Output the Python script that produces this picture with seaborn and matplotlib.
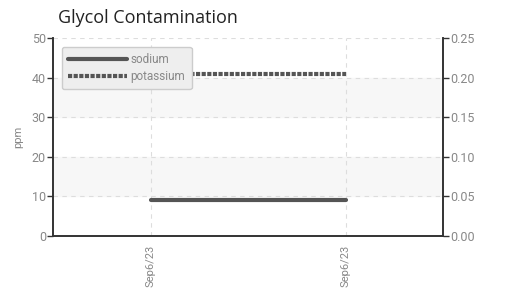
import pandas as pd
import seaborn as sns
import matplotlib.pyplot as plt

# data
dates = ["Sep6/23", "Sep6/23"]
sodium = [9, 9]              # ppm, left axis
potassium = [0.205, 0.205]   # right axis

df = pd.DataFrame({"pos": [0, 1], "sodium": sodium, "potassium": potassium})

sns.set_theme(style="white")
plt.rcParams['font.family'] = ['Roboto', 'DejaVu Sans']

fig = plt.figure(figsize=(5.08, 2.90), dpi=100)
ax = fig.add_axes([53/508, 1 - 236/290, 390/508, 198/290])
ax2 = ax.twinx()

# alternating bands
for lo, hi in [(10, 20), (30, 40)]:
    ax.axhspan(lo, hi, color="#f7f7f7", zorder=0)

sns.lineplot(data=df, x="pos", y="sodium", ax=ax, color="#555555", lw=3,
             label="sodium", legend=False)
sns.lineplot(data=df, x="pos", y="potassium", ax=ax2, color="#555555", lw=3,
             label="potassium", legend=False)
ax2.lines[0].set_dashes((1.0, 0.35))

ax.set_xlim(-0.5, 1.5)
ax.set_ylim(0, 50)
ax2.set_ylim(0, 0.25)
ax.set_yticks(range(0, 51, 10))
ax2.set_yticks([0, 0.05, 0.10, 0.15, 0.20, 0.25])
ax2.set_yticklabels(["0.00", "0.05", "0.10", "0.15", "0.20", "0.25"])
ax.set_xticks(df["pos"])
ax.set_xticklabels(dates, rotation=90)

ax.grid(True, axis="both", linestyle=(0, (4, 4)), color="#dddddd", lw=0.8)
ax.set_axisbelow(True)

for a in (ax, ax2):
    a.spines["top"].set_visible(False)
    for s in ("left", "right", "bottom"):
        a.spines[s].set_color("#333333")
        a.spines[s].set_linewidth(1.2)
    a.tick_params(colors="#333333", labelcolor="#888888", labelsize=9,
                  length=4, width=1, direction="out")
ax.tick_params(axis="y", length=4, pad=1)
ax2.tick_params(axis="y", length=4, pad=1)
ax.tick_params(axis="x", length=4, pad=2, labelsize=8)

ax.set_xlabel("")
ax.set_ylabel("ppm", color="#888888", fontsize=8, labelpad=6)
ax2.set_ylabel("")

fig.text(58/508, 1 - 18/290, "Glycol Contamination", fontsize=13,
         color="#222222", va="center", family="Open Sans")

handles = [h for h in ax.lines if h.get_label() == "sodium"] + \
          [h for h in ax2.lines if h.get_label() == "potassium"]
leg = ax2.legend(handles, ["sodium", "potassium"], loc="upper left",
                 bbox_to_anchor=(0.023, 0.955), borderaxespad=0,
                 frameon=True, fontsize=8.5,
                 handlelength=5, handletextpad=0.25, borderpad=0.55,
                 labelspacing=0.3, fancybox=True, framealpha=1)
leg.get_frame().set_facecolor("#eeeeee")
leg.get_frame().set_edgecolor("#cccccc")
for t in leg.get_texts():
    t.set_color("#888888")
leg.set_zorder(10)

fig.savefig("out.png", dpi=100)
